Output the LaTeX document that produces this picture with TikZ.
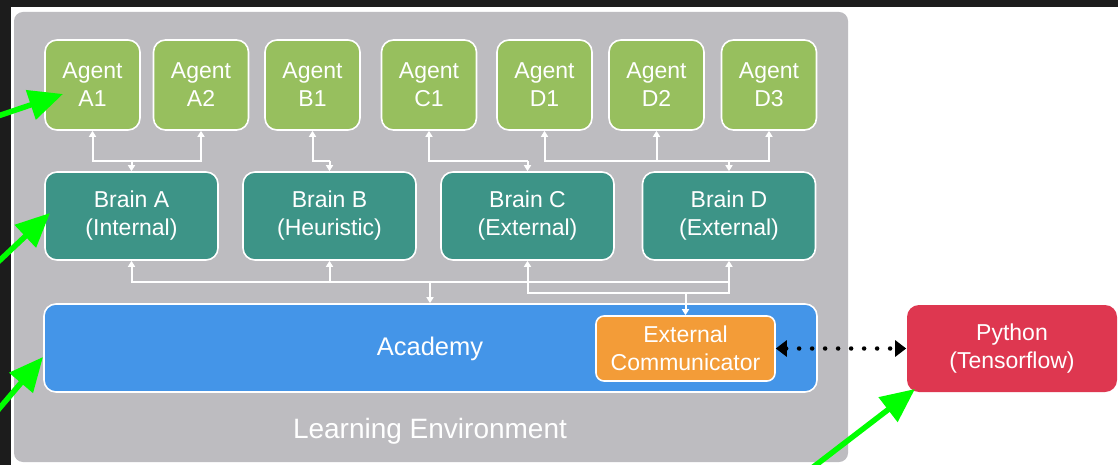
\documentclass[tikz,border=0pt]{standalone}
\usepackage{fontspec}
\setmainfont{Liberation Sans}
\usetikzlibrary{arrows.meta}
\definecolor{panelgray}{HTML}{BDBCC0}
\definecolor{agentgreen}{HTML}{97BF5E}
\definecolor{brainteal}{HTML}{3D9487}
\definecolor{acadblue}{HTML}{4495E8}
\definecolor{extorange}{HTML}{F39C38}
\definecolor{pyred}{HTML}{DE3750}
\definecolor{darkstrip}{HTML}{1C1C1C}
\definecolor{hlgreen}{HTML}{00FF00}
\tikzset{
  box/.style={draw=white, line width=1.6pt, rounded corners=12pt, text=white,
    align=center, font=\fontsize{23}{28}\selectfont, inner sep=0pt},
  agentbox/.style={box, fill=agentgreen, minimum width=95pt, minimum height=90pt},
  brainbox/.style={box, fill=brainteal, minimum width=173pt, minimum height=88pt},
  conn/.style={draw=white, line width=2pt},
  biconn/.style={conn, {Triangle[length=6pt,width=7pt]}-{Triangle[length=6pt,width=7pt]}},
  upconn/.style={conn, {Triangle[length=6pt,width=7pt]}-},
  downconn/.style={conn, -{Triangle[length=6pt,width=7pt]}},
  hlarrow/.style={draw=hlgreen, line width=5.5pt, -{Triangle[length=34pt,width=30pt]}},
}
\begin{document}
\begin{tikzpicture}[x=1pt, y=-1pt]
\useasboundingbox (0,0) rectangle (1118,465);
\fill[white] (0,0) rectangle (1118,465);
\fill[darkstrip] (0,0) rectangle (1118,7);
\fill[darkstrip] (0,0) rectangle (11,465);
\fill[panelgray, rounded corners=9pt] (14,12) rectangle (848,462);

% agents
\node[agentbox] (a1) at (92.5,85) {Agent\\A1};
\node[agentbox] (a2) at (201,85) {Agent\\A2};
\node[agentbox] (b1) at (312.5,85) {Agent\\B1};
\node[agentbox] (c1) at (429,85) {Agent\\C1};
\node[agentbox] (d1) at (544.5,85) {Agent\\D1};
\node[agentbox] (d2) at (656.5,85) {Agent\\D2};
\node[agentbox] (d3) at (769,85) {Agent\\D3};

% brains
\node[brainbox] (ba) at (131.5,216) {Brain A\\(Internal)};
\node[brainbox] (bb) at (329.5,216) {Brain B\\(Heuristic)};
\node[brainbox] (bc) at (527.5,216) {Brain C\\(External)};
\node[brainbox] (bd) at (729,216) {Brain D\\(External)};

% academy
\node[box, fill=acadblue, minimum width=773pt, minimum height=88pt] (acad) at (430.5,348) {};
\node[text=white, font=\fontsize{25.5}{30}\selectfont] (acadlbl) at (430,349) {Academy};
\node[box, fill=extorange, rounded corners=8pt, minimum width=179pt, minimum height=65pt] (ext) at (685.5,348.5) {External\\Communicator};
\node[text=white, font=\fontsize{28}{32}\selectfont] (le) at (430,431) {Learning Environment};

% python
\node[box, draw=none, fill=pyred, rounded corners=12pt, minimum width=210pt, minimum height=87pt] (py) at (1012,348.5) {Python\\(Tensorflow)};

% agent-brain connectors
\coordinate (busA) at (0,161);
\draw[biconn] (a1.south) -- (a1.south |- busA) -| (a2.south);
\draw[downconn] (ba.north |- busA) -- (ba.north);
\draw[upconn] (b1.south) |- (bb.north |- busA);
\draw[downconn] (bb.north |- busA) -- (bb.north);
\draw[upconn] (c1.south) |- (bc.north |- busA);
\draw[downconn] (bc.north |- busA) -- (bc.north);
\draw[biconn] (d1.south) -- (d1.south |- busA) -| (d3.south);
\draw[upconn] (d2.south) -- (d2.south |- busA);
\draw[downconn] (bd.north |- busA) -- (bd.north);

% brain-academy connectors
\coordinate (busB) at (0,282);
\coordinate (busC) at (0,293);
\draw[biconn] (ba.south) -- (ba.south |- busB) -| (bd.south);
\draw[upconn] (bb.south) -- (bb.south |- busB);
\draw[upconn] (bc.south) -- (bc.south |- busC) -| (bd.south |- busB);
\draw[downconn] (acadlbl.center |- busB) -- (acadlbl.center |- acad.north);
\draw[downconn] (ext.north |- busC) -- (ext.north);

% dotted link
\draw[black, line width=4.5pt, line cap=round, dash pattern=on 0pt off 13pt,
  {Triangle[length=11pt,width=16pt]}-{Triangle[length=11pt,width=16pt]}]
  (ext.east) -- (py.west);

% highlight arrows
\coordinate (g1s) at (-2,116);
\coordinate (g1t) at (63,94);
\coordinate (g2s) at (-2,262);
\coordinate (g2t) at (50,213);
\coordinate (g3s) at (-2,410);
\coordinate (g3t) at (43,357);
\coordinate (g4s) at (812,468);
\coordinate (g4t) at (915,389);
\draw[hlarrow] (g1s) -- (g1t);
\draw[hlarrow] (g2s) -- (g2t);
\draw[hlarrow] (g3s) -- (g3t);
\draw[hlarrow] (g4s) -- (g4t);
\end{tikzpicture}
\end{document}
